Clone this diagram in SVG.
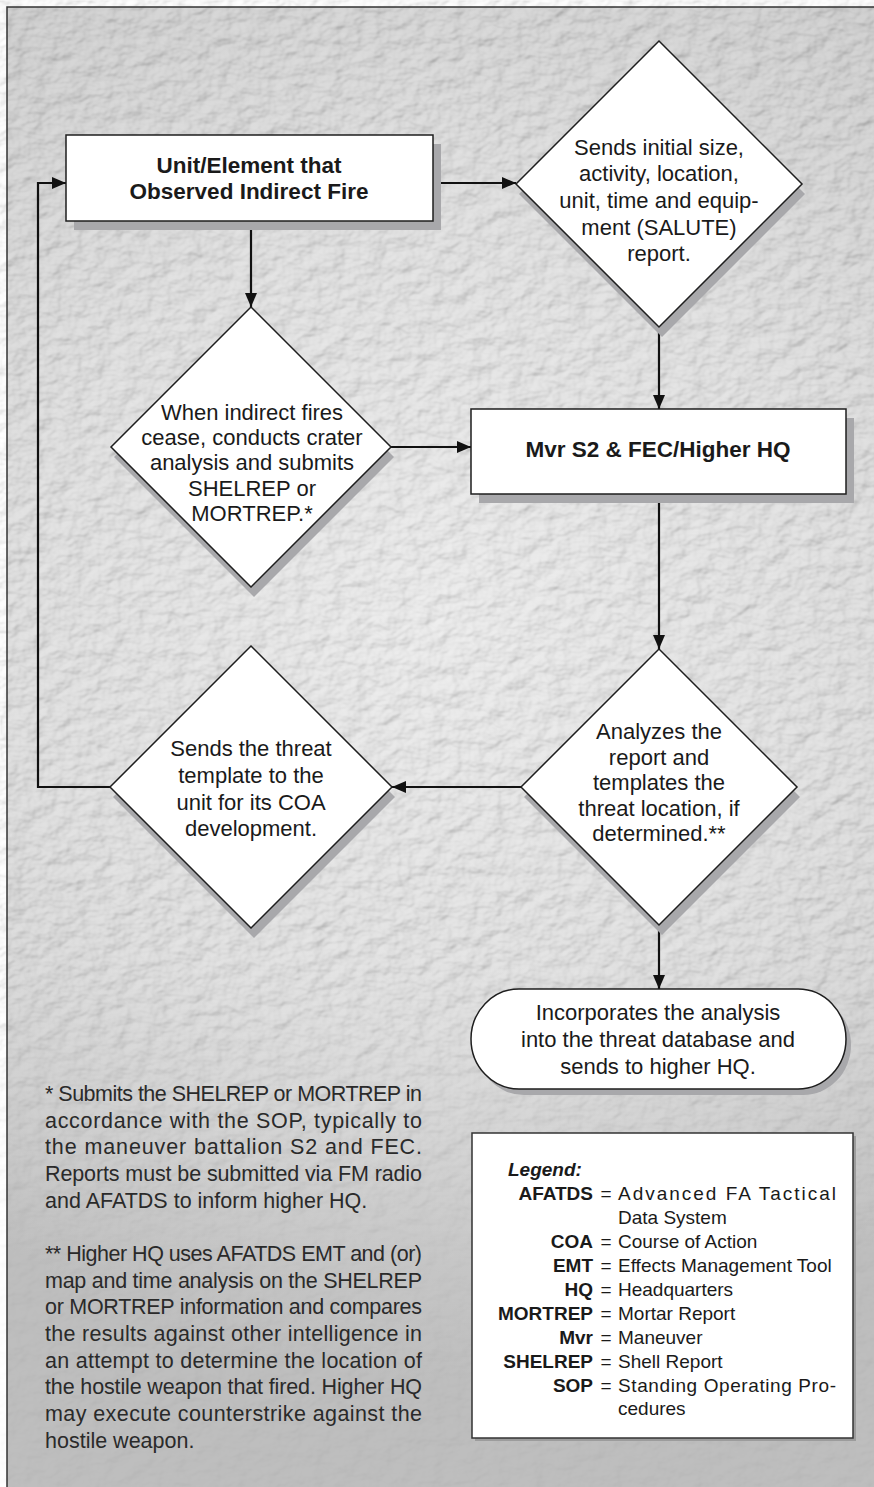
<svg xmlns="http://www.w3.org/2000/svg" width="874" height="1487" viewBox="0 0 874 1487">
<style>
.node{fill:#ffffff;stroke:#1e1e1e;stroke-width:1.5}
.shadow{fill:#a8a8ab}
.t{font-family:"Liberation Sans",Arial,Helvetica,sans-serif;font-size:22px;fill:#1a1a1a;text-anchor:middle}
.tb{font-family:"Liberation Sans",Arial,Helvetica,sans-serif;font-size:22.5px;font-weight:bold;fill:#1a1a1a;text-anchor:middle}
.fn{font-family:"Liberation Sans",Arial,Helvetica,sans-serif;font-size:21.5px;fill:#2a2a2a}
.lg{font-family:"Liberation Sans",Arial,Helvetica,sans-serif;font-size:19px;fill:#1a1a1a}
.lk{font-weight:bold;text-anchor:end}
.le{text-anchor:middle}
.conn{fill:none;stroke:#111;stroke-width:2.2}
</style>
<defs>
<radialGradient id="bg" gradientUnits="userSpaceOnUse" cx="440" cy="620" r="760">
<stop offset="0" stop-color="#e6e6e6"/>
<stop offset="0.55" stop-color="#d4d4d4"/>
<stop offset="1" stop-color="#bababa"/>
</radialGradient>
<linearGradient id="fade" gradientUnits="userSpaceOnUse" x1="0" y1="950" x2="0" y2="1250">
<stop offset="0" stop-color="#fff"/>
<stop offset="1" stop-color="#333"/>
</linearGradient>
<mask id="texmask" maskUnits="userSpaceOnUse" x="0" y="0" width="874" height="1487">
<rect x="0" y="0" width="874" height="1487" fill="url(#fade)"/>
</mask>
<filter id="tex" filterUnits="userSpaceOnUse" x="0" y="0" width="874" height="1487">
<feTurbulence type="fractalNoise" baseFrequency="0.05 0.07" numOctaves="3" seed="7" result="n"/>
<feDiffuseLighting in="n" surfaceScale="4" lighting-color="#ffffff" result="l">
<feDistantLight azimuth="225" elevation="55"/>
</feDiffuseLighting>
<feColorMatrix type="saturate" values="0"/>
</filter>
<marker id="arr" markerUnits="userSpaceOnUse" markerWidth="14" markerHeight="12" refX="14" refY="6" orient="auto">
<path d="M0,0 L14,6 L0,12 z" fill="#111"/>
</marker>
</defs>

<g id="background">
<rect x="0" y="0" width="874" height="1487" fill="#ffffff"/>
<rect x="7" y="7" width="867" height="1480" fill="url(#bg)"/>
<rect x="7" y="7" width="867" height="1480" filter="url(#tex)" opacity="0.35" mask="url(#texmask)"/>
<path d="M7,1487 V7 H874" fill="none" stroke="#333" stroke-width="1.5"/>
</g>

<g id="connectors">
<path class="conn" d="M433,183 H516" marker-end="url(#arr)"/>
<path class="conn" d="M251,221 V307" marker-end="url(#arr)"/>
<path class="conn" d="M391,447 H471" marker-end="url(#arr)"/>
<path class="conn" d="M659,326 V409" marker-end="url(#arr)"/>
<path class="conn" d="M659,494 V649" marker-end="url(#arr)"/>
<path class="conn" d="M521,787 H392" marker-end="url(#arr)"/>
<path class="conn" d="M110,787 H38 V183 H66" marker-end="url(#arr)"/>
<path class="conn" d="M659,925 V989" marker-end="url(#arr)"/>
</g>

<g id="node-unit">
<rect class="shadow" x="74" y="144" width="367" height="86"/>
<rect class="node" x="66" y="135" width="367" height="86"/>
<text class="tb" x="249" y="173">Unit/Element that</text>
<text class="tb" x="249" y="199">Observed Indirect Fire</text>
</g>

<g id="node-salute">
<polygon class="shadow" points="662,51 805,194 662,337 519,194"/>
<polygon class="node" points="659,41 802,184 659,327 516,184"/>
<text class="t" x="659" y="155">Sends initial size,</text>
<text class="t" x="659" y="181">activity, location,</text>
<text class="t" x="659" y="208">unit, time and equip-</text>
<text class="t" x="659" y="235">ment (SALUTE)</text>
<text class="t" x="659" y="261">report.</text>
</g>

<g id="node-crater">
<polygon class="shadow" points="254,317 394,457 254,597 114,457"/>
<polygon class="node" points="251,307 391,447 251,587 111,447"/>
<text class="t" x="252" y="420">When indirect fires</text>
<text class="t" x="252" y="445">cease, conducts crater</text>
<text class="t" x="252" y="470">analysis and submits</text>
<text class="t" x="252" y="496">SHELREP or</text>
<text class="t" x="252" y="521">MORTREP.*</text>
</g>

<g id="node-mvr">
<rect class="shadow" x="479" y="418" width="375" height="85"/>
<rect class="node" x="471" y="409" width="375" height="85"/>
<text class="tb" x="658" y="457">Mvr S2 &amp; FEC/Higher HQ</text>
</g>

<g id="node-sendtemplate">
<polygon class="shadow" points="254,656 395,797 254,938 113,797"/>
<polygon class="node" points="251,646 392,787 251,928 110,787"/>
<text class="t" x="251" y="756">Sends the threat</text>
<text class="t" x="251" y="783">template to the</text>
<text class="t" x="251" y="810">unit for its COA</text>
<text class="t" x="251" y="836">development.</text>
</g>

<g id="node-analyze">
<polygon class="shadow" points="662,659 800,797 662,935 524,797"/>
<polygon class="node" points="659,649 797,787 659,925 521,787"/>
<text class="t" x="659" y="739">Analyzes the</text>
<text class="t" x="659" y="765">report and</text>
<text class="t" x="659" y="790">templates the</text>
<text class="t" x="659" y="816">threat location, if</text>
<text class="t" x="659" y="841">determined.**</text>
</g>

<g id="node-incorporate">
<rect class="shadow" x="476" y="995" width="375" height="100" rx="48" ry="50"/>
<rect class="node" x="471" y="989" width="375" height="100" rx="48" ry="50"/>
<text class="t" x="658" y="1020">Incorporates the analysis</text>
<text class="t" x="658" y="1047">into the threat database and</text>
<text class="t" x="658" y="1074">sends to higher HQ.</text>
</g>

<g id="footnotes">
<text class="fn" x="45" y="1101" textLength="377" lengthAdjust="spacing">* Submits the SHELREP or MORTREP in</text>
<text class="fn" x="45" y="1127.5" textLength="377" lengthAdjust="spacing">accordance with the SOP, typically to</text>
<text class="fn" x="45" y="1154" textLength="377" lengthAdjust="spacing">the maneuver battalion S2 and FEC.</text>
<text class="fn" x="45" y="1181" textLength="377" lengthAdjust="spacing">Reports must be submitted via FM radio</text>
<text class="fn" x="45" y="1207.5">and AFATDS to inform higher HQ.</text>
<text class="fn" x="45" y="1261" textLength="377" lengthAdjust="spacing">** Higher HQ uses AFATDS EMT and (or)</text>
<text class="fn" x="45" y="1287.5" textLength="377" lengthAdjust="spacing">map and time analysis on the SHELREP</text>
<text class="fn" x="45" y="1314" textLength="377" lengthAdjust="spacing">or MORTREP information and compares</text>
<text class="fn" x="45" y="1341" textLength="377" lengthAdjust="spacing">the results against other intelligence in</text>
<text class="fn" x="45" y="1367.5" textLength="377" lengthAdjust="spacing">an attempt to determine the location of</text>
<text class="fn" x="45" y="1394" textLength="377" lengthAdjust="spacing">the hostile weapon that fired. Higher HQ</text>
<text class="fn" x="45" y="1421" textLength="377" lengthAdjust="spacing">may execute counterstrike against the</text>
<text class="fn" x="45" y="1447.5">hostile weapon.</text>
</g>

<g id="legend">
<rect x="475" y="1136" width="381" height="305" fill="#9c9c9c"/>
<rect x="472" y="1133" width="381" height="305" fill="#ffffff" stroke="#333" stroke-width="1.5"/>
<text class="lg" x="508" y="1176" font-weight="bold" font-style="italic">Legend:</text>
<text class="lg lk" x="593" y="1200">AFATDS</text><text class="lg le" x="606" y="1200">=</text><text class="lg" x="618" y="1200" textLength="218" lengthAdjust="spacing">Advanced FA Tactical</text>
<text class="lg" x="618" y="1224">Data System</text>
<text class="lg lk" x="593" y="1248">COA</text><text class="lg le" x="606" y="1248">=</text><text class="lg" x="618" y="1248">Course of Action</text>
<text class="lg lk" x="593" y="1272">EMT</text><text class="lg le" x="606" y="1272">=</text><text class="lg" x="618" y="1272">Effects Management Tool</text>
<text class="lg lk" x="593" y="1296">HQ</text><text class="lg le" x="606" y="1296">=</text><text class="lg" x="618" y="1296">Headquarters</text>
<text class="lg lk" x="593" y="1320">MORTREP</text><text class="lg le" x="606" y="1320">=</text><text class="lg" x="618" y="1320">Mortar Report</text>
<text class="lg lk" x="593" y="1344">Mvr</text><text class="lg le" x="606" y="1344">=</text><text class="lg" x="618" y="1344">Maneuver</text>
<text class="lg lk" x="593" y="1368">SHELREP</text><text class="lg le" x="606" y="1368">=</text><text class="lg" x="618" y="1368">Shell Report</text>
<text class="lg lk" x="593" y="1392">SOP</text><text class="lg le" x="606" y="1392">=</text><text class="lg" x="618" y="1392" textLength="218" lengthAdjust="spacing">Standing Operating Pro-</text>
<text class="lg" x="618" y="1415">cedures</text>
</g>
</svg>
